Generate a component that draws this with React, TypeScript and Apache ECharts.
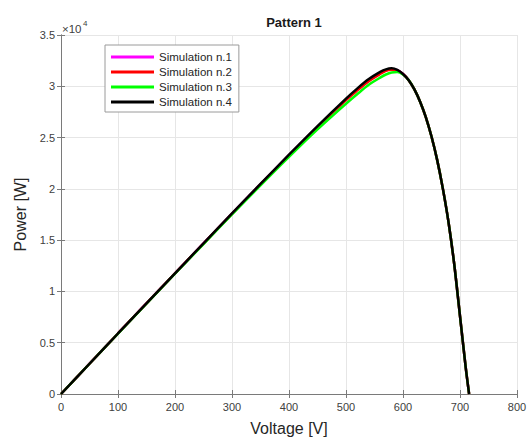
import React, { useEffect, useRef } from "react";
import * as echarts from "echarts";

const voltage = [0, 50, 100, 150, 200, 250, 300, 350, 400, 450, 500, 520, 540, 560, 570, 580, 590, 600, 610, 620, 630, 640, 650, 660, 670, 680, 690, 700, 710, 716];

const sim1 = [0, 2960, 5910, 8850, 11770, 14680, 17580, 20450, 23280, 26040, 28680, 29650, 30550, 31250, 31550, 31650, 31580, 31200, 30600, 29700, 28500, 27000, 25100, 22800, 20000, 16700, 12600, 7600, 2600, 0];
const sim2 = [0, 2950, 5900, 8840, 11760, 14670, 17570, 20440, 23270, 26020, 28650, 29600, 30500, 31200, 31500, 31600, 31550, 31200, 30600, 29700, 28500, 27000, 25100, 22800, 20000, 16700, 12600, 7600, 2600, 0];
const sim3 = [0, 2950, 5890, 8820, 11730, 14620, 17500, 20340, 23120, 25800, 28300, 29250, 30150, 30850, 31150, 31350, 31400, 31150, 30600, 29700, 28500, 27000, 25100, 22800, 20000, 16700, 12600, 7600, 2600, 0];
const sim4 = [0, 2950, 5900, 8840, 11770, 14690, 17600, 20480, 23330, 26120, 28800, 29800, 30700, 31400, 31650, 31750, 31600, 31200, 30600, 29700, 28500, 27000, 25100, 22800, 20000, 16700, 12600, 7600, 2600, 0];

const seriesNames = ["Simulation n.1", "Simulation n.2", "Simulation n.3", "Simulation n.4"];
const seriesColors = ["#ff00ff", "#ff0000", "#00ff00", "#000000"];
const seriesValues = [sim1, sim2, sim3, sim4];

const FONT = "Liberation Sans, Arial, Helvetica, sans-serif";

export default function App() {
  const ref = useRef<HTMLDivElement>(null);
  useEffect(() => {
    if (!ref.current) return;
    const chart = echarts.init(ref.current, null, { renderer: "svg" });
    const axisColor = "#7a7a7a";
    const labelColor = "#404040";
    chart.setOption({
      animation: false,
      backgroundColor: "#ffffff",
      textStyle: { fontFamily: FONT },
      title: {
        text: "Pattern 1",
        left: 289,
        textAlign: "center",
        top: 11,
        textStyle: { fontSize: 13, fontWeight: "bold", color: "#1a1a1a", fontFamily: FONT },
      },
      legend: {
        orient: "vertical",
        left: 105,
        top: 45,
        data: seriesNames,
        icon: "rect",
        itemWidth: 43,
        itemHeight: 3,
        itemGap: 3,
        padding: [6, 7, 4, 6],
        borderColor: "#9a9a9a",
        borderWidth: 1,
        backgroundColor: "#ffffff",
        textStyle: { fontSize: 11.5, color: "#262626", fontFamily: FONT },
      },
      grid: { left: 61, right: 13, top: 35, bottom: 47, containLabel: false },
      xAxis: [
        {
          type: "value",
          min: 0,
          max: 800,
          interval: 100,
          name: "Voltage [V]",
          nameLocation: "middle",
          nameGap: 26,
          nameTextStyle: { fontSize: 16, color: "#262626", fontFamily: FONT },
          axisLine: { show: true, lineStyle: { color: axisColor } },
          axisTick: { show: true, inside: true, length: 4, lineStyle: { color: axisColor } },
          axisLabel: { fontSize: 11, color: labelColor, margin: 7, fontFamily: FONT },
          splitLine: { show: true, lineStyle: { color: "#e6e6e6", width: 1 } },
        },
        {
          type: "value",
          position: "top",
          min: 0,
          max: 800,
          interval: 100,
          axisLine: { show: true, lineStyle: { color: axisColor } },
          axisTick: { show: true, inside: true, length: 4, lineStyle: { color: axisColor } },
          axisLabel: { show: false },
          splitLine: { show: false },
        },
      ],
      yAxis: [
        {
          type: "value",
          min: 0,
          max: 35000,
          interval: 5000,
          name: "Power [W]",
          nameLocation: "middle",
          nameGap: 32,
          nameTextStyle: { fontSize: 16, color: "#262626", fontFamily: FONT },
          axisLine: { show: true, lineStyle: { color: axisColor } },
          axisTick: { show: true, inside: true, length: 4, lineStyle: { color: axisColor } },
          axisLabel: {
            fontSize: 11,
            color: labelColor,
            margin: 6,
            fontFamily: FONT,
            formatter: (v: number) => String(v / 10000),
          },
          splitLine: { show: true, lineStyle: { color: "#e6e6e6", width: 1 } },
        },
        {
          type: "value",
          position: "right",
          min: 0,
          max: 35000,
          interval: 5000,
          axisLine: { show: true, lineStyle: { color: axisColor } },
          axisTick: { show: true, inside: true, length: 4, lineStyle: { color: axisColor } },
          axisLabel: { show: false },
          splitLine: { show: false },
        },
      ],
      graphic: [
        {
          type: "text",
          left: 62,
          top: 23,
          style: { text: "×10", fontSize: 11.5, fill: labelColor, fontFamily: FONT },
        },
        {
          type: "text",
          left: 83,
          top: 19,
          style: { text: "4", fontSize: 8, fill: labelColor, fontFamily: FONT },
        },
      ],
      series: seriesValues.map((vals, i) => ({
        name: seriesNames[i],
        type: "line",
        xAxisIndex: 0,
        yAxisIndex: 0,
        data: voltage.map((v, j) => [v, vals[j]]),
        smooth: 0.3,
        showSymbol: false,
        symbol: "none",
        color: seriesColors[i],
        lineStyle: { color: seriesColors[i], width: 2.5 },
        z: 2 + i,
      })),
    });
    return () => chart.dispose();
  }, []);
  return <div ref={ref} style={{ position: "fixed", left: 0, top: 0, width: 530, height: 441 }} />;
}
